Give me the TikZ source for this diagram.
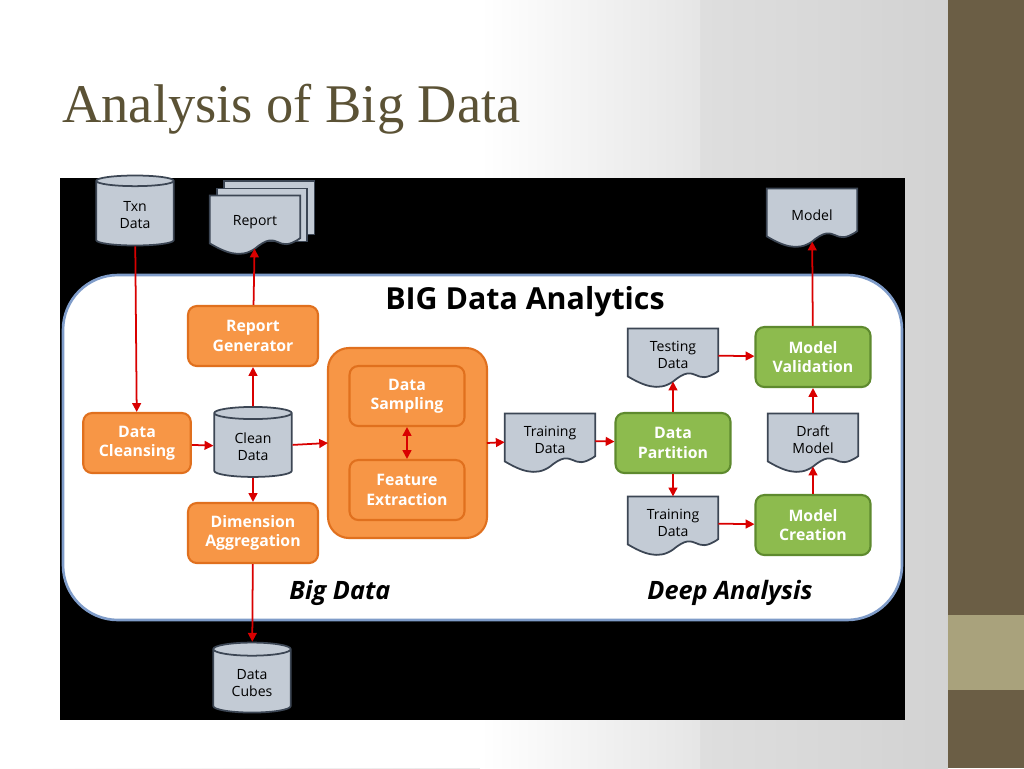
\documentclass[tikz,border=0pt]{standalone}
\usepackage{fontspec}
\setmainfont{Liberation Serif}
\setsansfont{Open Sans}
\usetikzlibrary{shapes.geometric, arrows.meta}
\definecolor{band}{HTML}{6B5E45}
\definecolor{bandlight}{HTML}{A9A27C}
\definecolor{titlecol}{HTML}{5B5235}
\definecolor{boxorange}{HTML}{F79646}
\definecolor{edgeorange}{HTML}{E0701E}
\definecolor{boxgreen}{HTML}{8DBB4E}
\definecolor{edgegreen}{HTML}{5E8A2E}
\definecolor{docgray}{HTML}{C3CBD5}
\definecolor{docedge}{HTML}{3C4654}
\definecolor{panelblue}{HTML}{7F9CC9}
\tikzset{
    proc/.style={draw=edgeorange, line width=1.2pt, fill=boxorange, rounded corners=5pt,
        minimum width=2.6cm, minimum height=1.2cm, align=center, text=white,
        font=\sffamily\bfseries\small},
    stage/.style={proc, draw=edgegreen, fill=boxgreen, minimum width=2.3cm},
    store/.style={cylinder, shape border rotate=90, aspect=0.25, draw=docedge, line width=1pt,
        fill=docgray, minimum width=1.55cm, minimum height=1.4cm, align=center,
        font=\sffamily\footnotesize},
    doc/.style={minimum width=1.8cm, minimum height=1.05cm, align=center,
        font=\sffamily\footnotesize},
    flow/.style={-{Triangle[length=5pt,width=5pt]}, red!85!black, line width=1pt},
    both/.style={flow, {Triangle[length=5pt,width=5pt]}-{Triangle[length=5pt,width=5pt]}}
}
% paper sheet with wavy lower edge
\newcommand{\paper}[1]{%
    \filldraw[draw=docedge, fill=docgray, line width=1pt]
        (#1.north west) -- (#1.north east) -- ([yshift=6pt]#1.south east)
        .. controls ([xshift=-0.5cm,yshift=-4pt]#1.south east) and ([xshift=0.5cm,yshift=12pt]#1.south) .. (#1.south)
        .. controls ([xshift=-0.3cm,yshift=-6pt]#1.south) and ([xshift=0.3cm,yshift=-2pt]#1.south west) .. ([yshift=3pt]#1.south west)
        -- cycle;}
\begin{document}
\begin{tikzpicture}[x=0.02cm, y=-0.02cm]
    % Slide
    \useasboundingbox (0,0) rectangle (1024,768);
    \shade[left color=white, right color=gray!35] (0,0) rectangle (948,768);
    \fill[white] (0,0) rectangle (480,768);
    \shade[left color=white, right color=gray!20] (480,0) rectangle (700,768);
    \fill[band] (948,0) rectangle (1024,768);
    \fill[bandlight] (948,615) rectangle (1024,690);
    \node[anchor=base west, text=titlecol, font=\fontsize{31}{36}\selectfont, inner sep=0pt]
        (title) at (62,122) {Analysis of Big Data};

    % Picture frame and panel
    \fill[black] (60,178) rectangle (905,720);
    \filldraw[fill=white, draw=panelblue, line width=1.5pt, rounded corners=1.1cm]
        (63,275) rectangle (902,620);
    \node[font=\sffamily\bfseries\LARGE] (head) at (525,302) {BIG Data Analytics};
    \node[font=\sffamily\bfseries\itshape\Large] (bigdata) at (340,593) {Big Data};
    \node[font=\sffamily\bfseries\itshape\Large] (deep) at (730,593) {Deep Analysis};

    % Big data side
    \node[store] (txn) at (135,215) {Txn\\Data};
    \node[doc] (report) at (255,222) {Report};
    \foreach \s in {8,4} {
        \filldraw[draw=docedge, fill=docgray, line width=1pt]
            ([xshift=\s pt,yshift=\s pt]report.north west) rectangle ([xshift=\s pt,yshift=\s pt]report.south east);
    }
    \paper{report}
    \node[doc] at (report) {Report};
    \node[proc] (repgen) at (253,336) {Report\\Generator};
    \node[proc, minimum width=2.15cm] (cleansing) at (137,443) {Data\\Cleansing};
    \node[store] (clean) at (253,447) {Clean\\Data};
    \node[proc] (dimension) at (253,533) {Dimension\\Aggregation};
    \node[store] (cubes) at (252,683) {Data\\Cubes};
    \filldraw[draw=edgeorange, fill=boxorange, line width=1.2pt, rounded corners=12pt]
        (328,348) rectangle (487,538);
    \coordinate (engine) at (328,443);
    \coordinate (engineout) at (487,443);
    \node[proc, minimum width=2.3cm] (sampling) at (407,396) {Data\\Sampling};
    \node[proc, minimum width=2.3cm] (feature) at (407,490) {Feature\\Extraction};

    % Deep analysis side
    \node[doc] (train) at (550,440) {};
    \paper{train}
    \node[doc] at (train) {Training\\Data};
    \node[stage] (partition) at (673,443) {Data\\Partition};
    \node[doc] (testing) at (673,355) {};
    \paper{testing}
    \node[doc] at (testing) {Testing\\Data};
    \node[doc] (train2) at (673,523) {};
    \paper{train2}
    \node[doc] at (train2) {Training\\Data};
    \node[stage] (validation) at (813,357) {Model\\Validation};
    \node[doc] (draft) at (813,440) {};
    \paper{draft}
    \node[doc] at (draft) {Draft\\Model};
    \node[stage] (creation) at (813,525) {Model\\Creation};
    \node[doc] (model) at (812,215) {};
    \paper{model}
    \node[doc] at (model) {Model};

    % Connectors
    \draw[flow] (txn) -- (cleansing);
    \draw[flow] (cleansing) -- (clean);
    \draw[flow] (clean) -- (repgen);
    \draw[flow] (repgen) -- (report);
    \draw[flow] (clean) -- (dimension);
    \draw[flow] (dimension) -- (cubes);
    \draw[flow] (clean) -- (engine);
    \draw[both] (sampling) -- (feature);
    \draw[flow] (engineout) -- (train);
    \draw[flow] (train) -- (partition);
    \draw[flow] (partition) -- (testing);
    \draw[flow] (partition) -- (train2);
    \draw[flow] (testing) -- (validation);
    \draw[flow] (train2) -- (creation);
    \draw[flow] (creation) -- (draft);
    \draw[flow] (draft) -- (validation);
    \draw[flow] (validation) -- (model);
\end{tikzpicture}
\end{document}
